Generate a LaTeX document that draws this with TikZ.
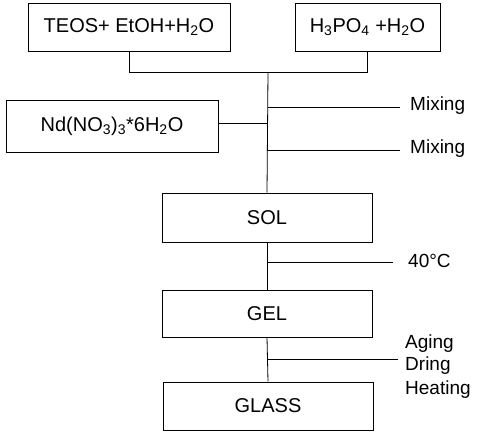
\documentclass[tikz,border=0pt]{standalone}
\usepackage{fontspec}
\setmainfont{Liberation Sans}
\begin{document}
\begin{tikzpicture}[x=1pt,y=-1pt,
  box/.style={draw, line width=1pt, minimum width=#1, minimum height=48pt, inner sep=0pt, font=\fontsize{20}{20}\selectfont},
  conn/.style={line width=0.8pt},
  lbl/.style={anchor=west, inner sep=0pt, font=\fontsize{19}{19}\selectfont}]
\useasboundingbox (0,0) rectangle (479,431);
\node[box=202pt] (teos) at (129,27) {TEOS+ EtOH+H\textsubscript{2}O};
\node[box=145pt] (h3po4) at (367.5,27) {H\textsubscript{3}PO\textsubscript{4} +H\textsubscript{2}O};
\node[box=212pt, minimum height=52pt] (nd) at (112,126) {Nd(NO\textsubscript{3})\textsubscript{3}*6H\textsubscript{2}O};
\node[box=210pt, minimum height=49pt] (sol) at (267,217.5) {SOL};
\node[box=210pt, minimum height=47pt] (gel) at (267,313.5) {GEL};
\node[box=210pt] (glass) at (268,406) {GLASS};
\coordinate (j1) at (268,72);
\coordinate (m1) at (268,107);
\coordinate (n1) at (268,123);
\coordinate (m2) at (268,150);
\coordinate (t1) at (268,262);
\coordinate (a1) at (268,359);
\coordinate (m1e) at (400,107);
\coordinate (m2e) at (400,150);
\coordinate (t1e) at (393,262);
\coordinate (a1e) at (398,359);
\draw[conn] (teos.south) -- (teos.south |- j1) -- (h3po4.south |- j1) -- (h3po4.south);
\draw[conn] (j1) -- (sol.north);
\draw[conn] (nd.east |- n1) -- (n1);
\draw[conn] (m1) -- (m1e);
\draw[conn] (m2) -- (m2e);
\draw[conn] (sol.south) -- (gel.north);
\draw[conn] (gel.south) -- (glass.north);
\draw[conn] (t1) -- (t1e);
\draw[conn] (a1) -- (a1e);
\node[lbl] (mix1) at (410,106) {Mixing};
\node[lbl] (mix2) at (410,149) {Mixing};
\node[lbl] (temp) at (408,261) {40°C};
\node[lbl] (aging) at (405,344) {Aging};
\node[lbl] (dring) at (405,366) {Dring};
\node[lbl] (heat) at (405,390) {Heating};
\end{tikzpicture}
\end{document}
